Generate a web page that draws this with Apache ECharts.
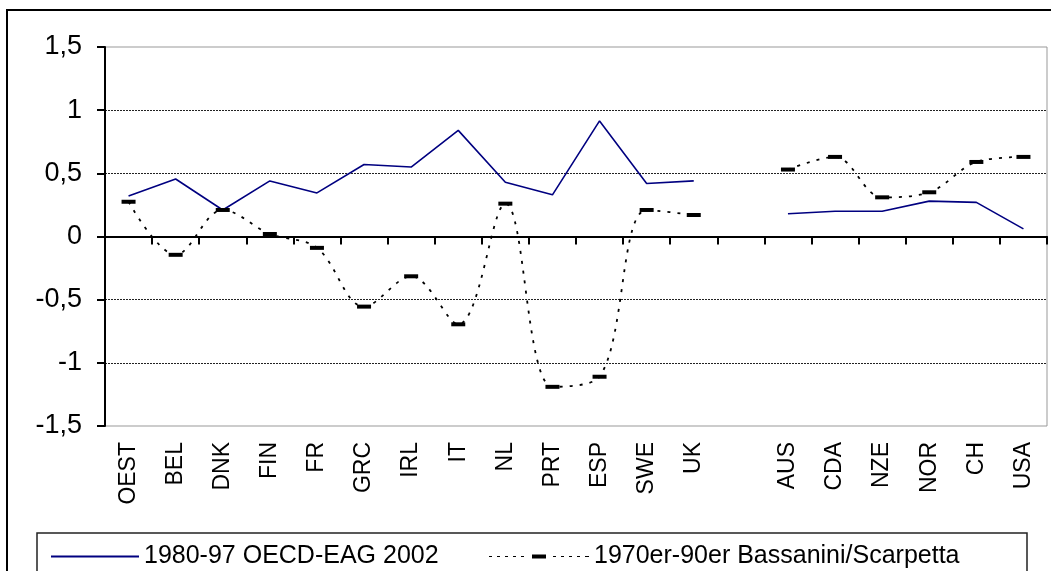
<!DOCTYPE html>
<html>
<head>
<meta charset="utf-8">
<script src="https://cdn.jsdelivr.net/npm/echarts@6/dist/echarts.min.js"></script>
<style>
html,body{margin:0;padding:0;background:#fff;}
#chart{width:1051px;height:571px;}
</style>
</head>
<body>
<div id="chart"></div>
<script>
var categories = ['OEST','BEL','DNK','FIN','FR','GRC','IRL','IT','NL','PRT','ESP','SWE','UK','','AUS','CDA','NZE','NOR','CH','USA'];
var seriesNames = ['1980-97 OECD-EAG 2002', '1970er-90er Bassanini/Scarpetta'];
var oecdValues = [0.32,0.455,0.21,0.44,0.345,0.57,0.55,0.84,0.43,0.33,0.915,0.42,0.44,null,0.18,0.2,0.2,0.28,0.27,0.06];
var bassaniniValues = [0.275,-0.145,0.21,0.02,-0.09,-0.555,-0.315,-0.695,0.26,-1.19,-1.11,0.21,0.17,null,0.53,0.63,0.31,0.35,0.59,0.63];
var yMin = -1.5, yMax = 1.5, yStep = 0.5;

var font = '"Liberation Sans", Arial, sans-serif';

// legend icon for the dotted series: small dashes with a bar in the middle (100 x 4 box)
var dottedIcon = 'path://';
for (var x = 0; x < 100; x += 8) {
  if (x + 3 > 42 && x < 58) continue;
  dottedIcon += 'M' + x + ',1.5h3v1h-3z';
}
dottedIcon += 'M43,0h14v4h-14z M97,1.5h3v1h-3z';

var chart = echarts.init(document.getElementById('chart'));
chart.setOption({
  animation: false,
  backgroundColor: '#fff',
  grid: {left: 105, right: 4, top: 47, bottom: 145, show: true, borderColor: '#999', borderWidth: 1},
  xAxis: [{
    type: 'category', data: categories, position: 'bottom',
    axisLine: {show: false, onZero: false},
    axisTick: {show: false},
    axisLabel: {rotate: 90, margin: 16, fontSize: 23, color: '#000', fontFamily: font, interval: 0}
  }, {
    type: 'category', data: categories, position: 'bottom',
    axisLine: {show: true, onZero: true, onZeroAxisIndex: 0, lineStyle: {color: '#000', width: 2}},
    axisTick: {show: true, length: 8, lineStyle: {color: '#000', width: 2}, interval: 0},
    axisLabel: {show: false}
  }],
  yAxis: {
    type: 'value', min: yMin, max: yMax, interval: yStep,
    axisLine: {show: true, lineStyle: {color: '#000', width: 2}},
    axisTick: {show: true, length: 8, lineStyle: {color: '#000', width: 2}},
    axisLabel: {margin: 23, fontSize: 27, color: '#000', fontFamily: font,
      formatter: function (v) { return String(v).replace('.', ','); }},
    splitLine: {show: true, showMinLine: false, showMaxLine: false, lineStyle: {color: '#222', width: 1, type: [2, 1]}}
  },
  legend: [{
    data: [{name: seriesNames[0], icon: 'rect'}], left: 46, top: 539, itemWidth: 88, itemHeight: 2, itemGap: 10,
    textStyle: {fontSize: 25, color: '#000', fontFamily: font}
  }, {
    data: [{name: seriesNames[1], icon: dottedIcon}], left: 484, top: 539, itemWidth: 100, itemHeight: 4, itemGap: 10,
    textStyle: {fontSize: 25, color: '#000', fontFamily: font}
  }],
  graphic: [
    {type: 'rect', shape: {x: 7, y: 10, width: 1100, height: 650}, style: {fill: 'none', stroke: '#000', lineWidth: 2}, silent: true},
    {type: 'rect', shape: {x: 37, y: 533, width: 990, height: 100}, style: {fill: 'none', stroke: '#222', lineWidth: 1.5}, silent: true}
  ],
  series: [{
    name: seriesNames[0], type: 'line', data: oecdValues, xAxisIndex: 0,
    symbol: 'none', showSymbol: false, connectNulls: false,
    lineStyle: {color: '#000080', width: 1.6}, itemStyle: {color: '#000080'}
  }, {
    name: seriesNames[1], type: 'line', data: bassaniniValues, xAxisIndex: 0,
    smooth: 0.35, connectNulls: false,
    symbol: 'rect', symbolSize: [14, 4], showSymbol: true,
    lineStyle: {color: '#000', width: 1.8, type: [3, 7]},
    itemStyle: {color: '#000'}
  }]
});
</script>
</body>
</html>
